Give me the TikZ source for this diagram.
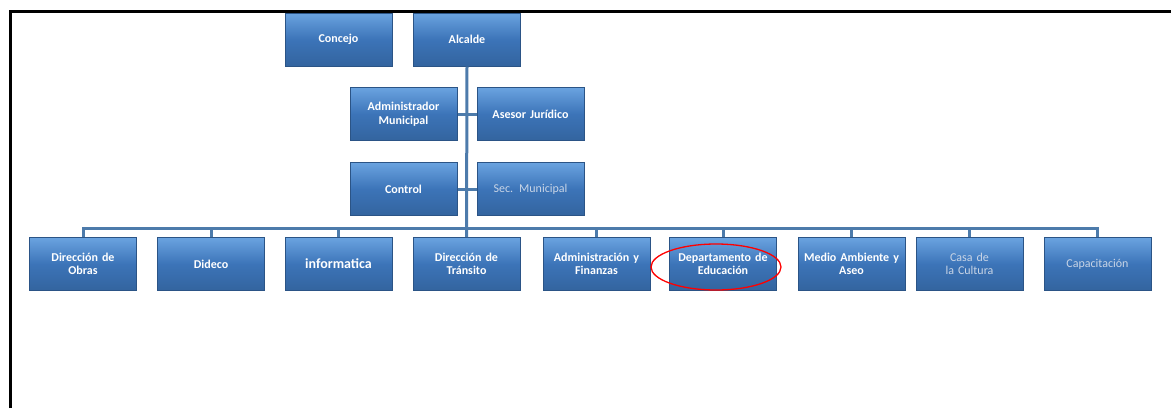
\documentclass[tikz,border=0pt]{standalone}
\usepackage{fontspec}
\setmainfont{Carlito}
\definecolor{cajaborde}{HTML}{2B5486}
\definecolor{cajaarriba}{HTML}{6AA3E0}
\definecolor{cajamedio}{HTML}{3C74B8}
\definecolor{cajaabajo}{HTML}{33649F}
\definecolor{linea}{HTML}{4D7BAB}
\definecolor{textoclaro}{HTML}{C9D5E6}

\begin{document}
\begin{tikzpicture}[x=1pt, y=-1pt,
    caja/.style = {draw=cajaborde, line width=1pt, rectangle,
        top color=cajaarriba, bottom color=cajaabajo, middle color=cajamedio,
        minimum width=107pt, minimum height=53pt, text width=105pt, align=center,
        font=\fontsize{12}{13.5}\selectfont\bfseries, text=white, inner sep=1pt},
    claro/.style = {font=\fontsize{12}{13.5}\selectfont, text=textoclaro},
    conn/.style = {draw=linea, line width=3pt}]
    \useasboundingbox (0,0) rectangle (1171,408);

    % Marco
    \draw[line width=3pt] (10,408) -- (10,11) -- (1171,11);

    % Nodos
    \node[caja] (concejo) at (338.5,39.5) {Concejo};
    \node[caja] (alcalde) at (467,39.5)   {Alcalde};

    \node[caja] (admin)  at (403.5,114) {Administrador\\Municipal};
    \node[caja] (asesor) at (530.5,114) {Asesor Jurídico};

    \node[caja] (control) at (403.5,189)        {Control};
    \node[caja, claro] (secmun) at (530.5,189)  {Sec. Municipal};

    \coordinate (bus) at (467,228);

    \node[caja] (obras)       at (83,264)    {Dirección de\\Obras};
    \node[caja] (dideco)      at (211,264)   {Dideco};
    \node[caja, font=\fontsize{14}{15}\selectfont\bfseries] (informatica) at (338.5,264) {informatica};
    \node[caja] (transito)    at (466.5,264) {Dirección de\\Tránsito};
    \node[caja] (finanzas)    at (596.5,264) {Administración y\\Finanzas};
    \node[caja] (educacion)   at (723,264)   {Departamento de\\Educación};
    \node[caja] (medio)       at (851.5,264) {Medio Ambiente y\\Aseo};
    \node[caja, claro] (casa) at (969.5,264) {Casa de\\la Cultura};
    \node[caja, claro] (capacitacion) at (1097.5,264) {Capacitación};

    % Conectores
    \draw[conn] (alcalde.south) -- (transito.north);
    \draw[conn] (admin.east) -- (asesor.west);
    \draw[conn] (control.east) -- (secmun.west);
    \foreach \n in {obras,dideco,informatica,finanzas,educacion,medio,casa,capacitacion}
        \draw[conn] (\n.north) |- (bus);

    % Marca
    \draw[red, line width=1.3pt] (716,267) ellipse (65 and 23);
\end{tikzpicture}
\end{document}
